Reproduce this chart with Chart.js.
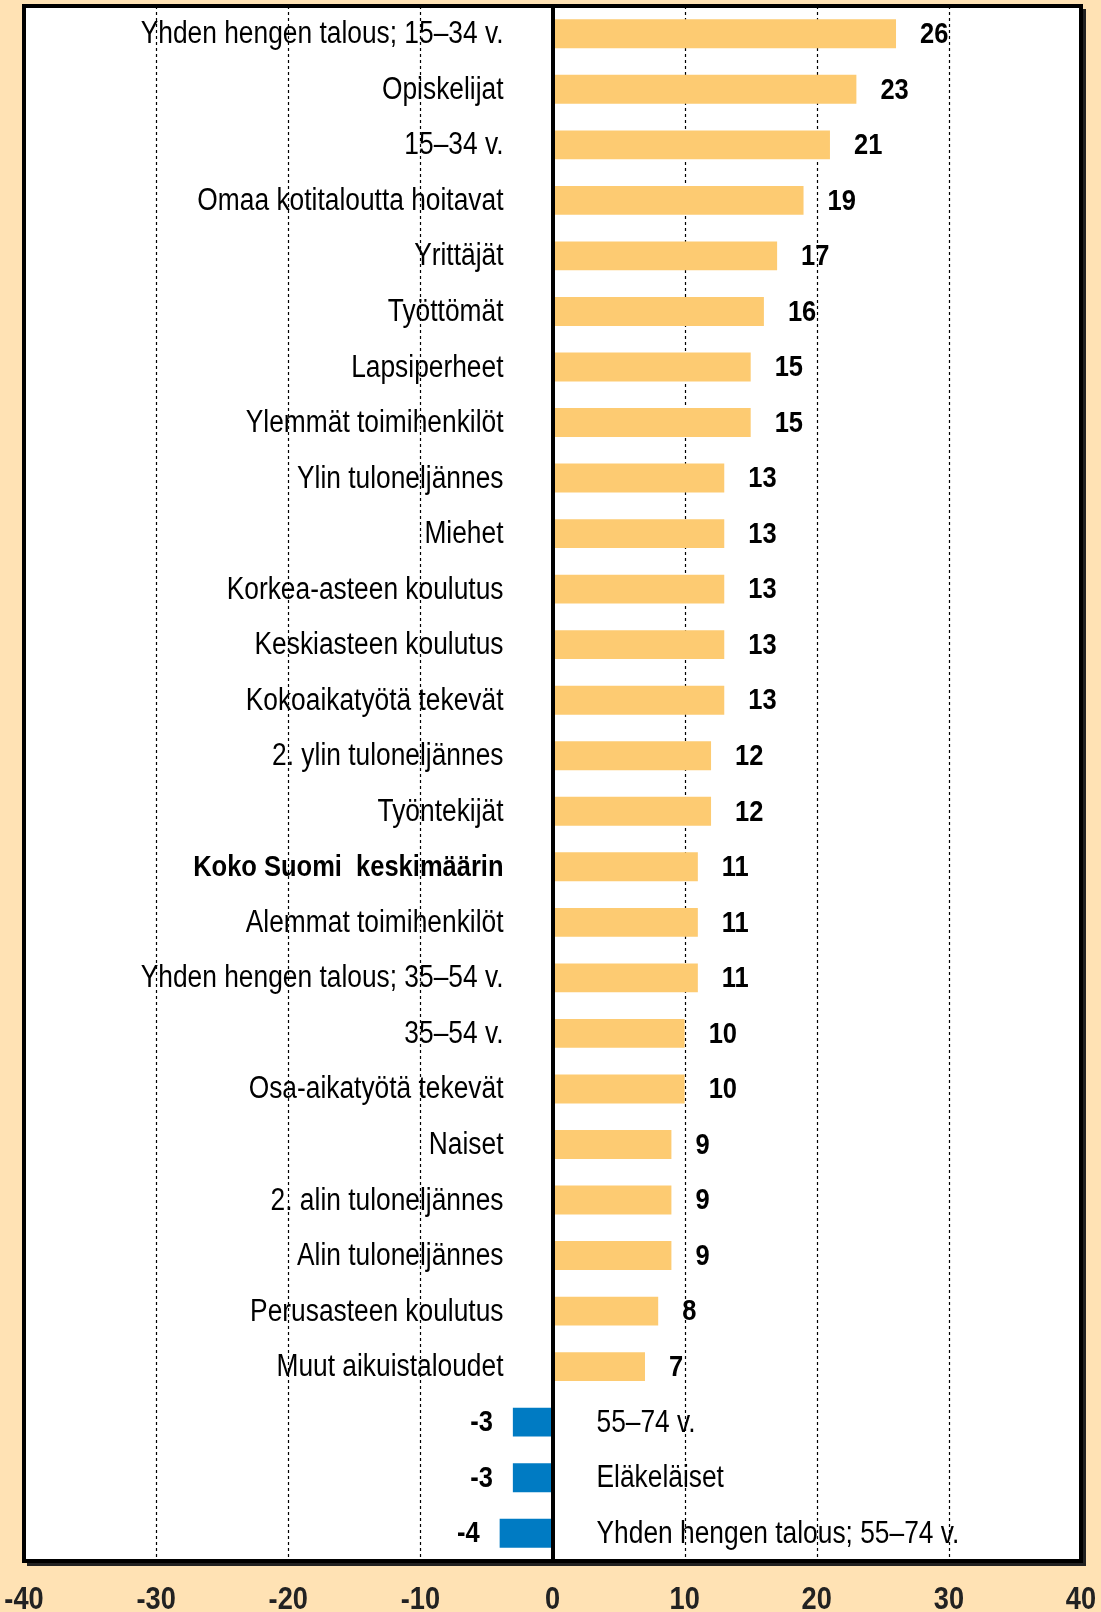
<!DOCTYPE html>
<html>
<head>
<meta charset="utf-8">
<script src="https://cdn.jsdelivr.net/npm/chart.js@4/dist/chart.umd.min.js"></script>
<style>
  html, body { margin: 0; padding: 0; background: #FFE2B4; }
  #wrap { width: 1101px; height: 1612px; }
</style>
</head>
<body>
<div id="wrap"><canvas id="myChart" width="1101" height="1612"></canvas></div>
<script>
const categories = [
    'Yhden hengen talous; 15–34 v.', 'Opiskelijat', '15–34 v.', 'Omaa kotitaloutta hoitavat',
    'Yrittäjät', 'Työttömät', 'Lapsiperheet', 'Ylemmät toimihenkilöt', 'Ylin tuloneljännes',
    'Miehet', 'Korkea-asteen koulutus', 'Keskiasteen koulutus', 'Kokoaikatyötä tekevät',
    '2. ylin tuloneljännes', 'Työntekijät', 'Koko Suomi  keskimäärin', 'Alemmat toimihenkilöt',
    'Yhden hengen talous; 35–54 v.', '35–54 v.', 'Osa-aikatyötä tekevät', 'Naiset',
    '2. alin tuloneljännes', 'Alin tuloneljännes', 'Perusasteen koulutus', 'Muut aikuistaloudet',
    '55–74 v.', 'Eläkeläiset', 'Yhden hengen talous; 55–74 v.'
];
const values = [26, 23, 21, 19, 17, 16, 15, 15, 13, 13, 13, 13, 13, 12, 12, 11, 11, 11, 10, 10, 9, 9, 9, 8, 7, -3, -3, -4];
const xTicks = [-40, -30, -20, -10, 0, 10, 20, 30, 40];
const boldLabel = 'Koko Suomi  keskimäärin';

const BG = '#FFE2B4';
const POS = '#FDCB72';
const NEG = '#007BC3';
const FONT = '"Liberation Sans", Arial, sans-serif';
const SQUEEZE = 0.85; // narrow the glyphs to look like a condensed face

function narrowText(ctx, text, x, y, align, bold, size) {
    ctx.save();
    ctx.translate(x, y);
    ctx.scale(SQUEEZE, 1);
    ctx.font = (bold ? 'bold ' : '') + size + 'px ' + FONT;
    ctx.textAlign = align;
    ctx.textBaseline = 'middle';
    ctx.fillText(text, 0, 0);
    ctx.restore();
}

const decor = {
    id: 'decor',
    beforeDraw(c) {
        const ctx = c.ctx, a = c.chartArea, x = c.scales.x;
        ctx.save();
        ctx.fillStyle = BG;
        ctx.fillRect(0, 0, c.width, c.height);
        ctx.fillStyle = '#fff';
        ctx.fillRect(a.left, a.top, a.right - a.left, a.bottom - a.top);
        // dotted grid
        ctx.strokeStyle = '#000';
        ctx.lineWidth = 1.2;
        ctx.setLineDash([3, 3]);
        xTicks.forEach(v => {
            if (v === 0 || v === x.min || v === x.max) return;
            const px = Math.round(x.getPixelForValue(v)) + 0.5;
            ctx.beginPath();
            ctx.moveTo(px, a.top);
            ctx.lineTo(px, a.bottom);
            ctx.stroke();
        });
        ctx.restore();
    },
    afterDatasetsDraw(c) {
        const ctx = c.ctx, a = c.chartArea, x = c.scales.x;
        const zero = x.getPixelForValue(0);
        ctx.save();
        ctx.fillStyle = '#000';
        c.getDatasetMeta(0).data.forEach((bar, i) => {
            const v = values[i], y = bar.y + 1;
            const bold = categories[i] === boldLabel;
            const size = bold ? 30 : 31;
            if (v >= 0) {
                narrowText(ctx, categories[i], zero - 49, y, 'right', bold, size);
                narrowText(ctx, String(v), bar.x + 24, y, 'left', true, 30);
            } else {
                narrowText(ctx, categories[i], zero + 44, y, 'left', bold, size);
                narrowText(ctx, String(v), bar.x - 20, y, 'right', true, 30);
            }
        });
        // zero line
        ctx.fillRect(Math.round(zero) - 2, a.top, 4, a.bottom - a.top);
        // frame with a small shadow
        ctx.fillStyle = '#222';
        ctx.fillRect(a.right + 2, a.top + 3, 3, a.bottom - a.top + 2);
        ctx.fillRect(a.left + 3, a.bottom + 2, a.right - a.left + 2, 3);
        ctx.strokeStyle = '#000';
        ctx.lineWidth = 4;
        ctx.strokeRect(a.left, a.top, a.right - a.left, a.bottom - a.top);
        // x tick labels
        xTicks.forEach(v => narrowText(ctx, String(v), x.getPixelForValue(v), a.bottom + 39, 'center', true, 32));
        ctx.restore();
    }
};

new Chart(document.getElementById('myChart').getContext('2d'), {
    type: 'bar',
    data: {
        labels: categories,
        datasets: [{
            data: values,
            backgroundColor: values.map(v => v < 0 ? NEG : POS),
            borderWidth: 0,
            barPercentage: 0.52,
            categoryPercentage: 1
        }]
    },
    options: {
        indexAxis: 'y',
        responsive: false,
        animation: false,
        devicePixelRatio: 1,
        layout: { padding: { left: 24, right: 20, top: 6, bottom: 51 } },
        plugins: { legend: { display: false }, tooltip: { enabled: false } },
        scales: {
            x: { display: false, min: -40, max: 40 },
            y: { display: false }
        }
    },
    plugins: [decor]
});
</script>
</body>
</html>
